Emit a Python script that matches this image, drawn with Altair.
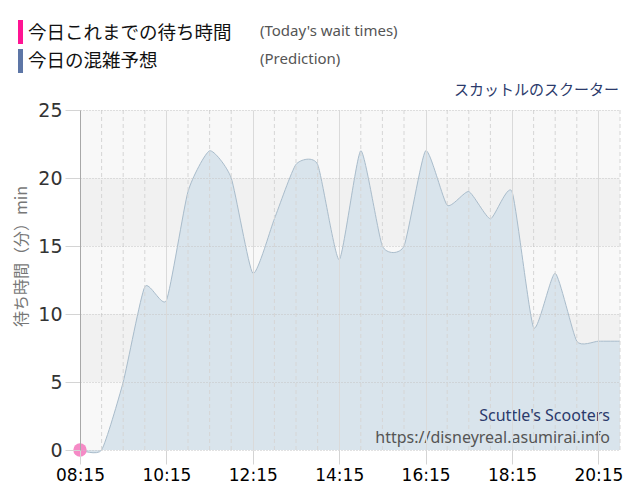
import altair as alt
import pandas as pd

# ---- data ----
times = ["08:15", "08:45", "09:15", "09:45", "10:15", "10:45", "11:15", "11:45",
         "12:15", "12:45", "13:15", "13:45", "14:15", "14:45", "15:15", "15:45",
         "16:15", "16:45", "17:15", "17:45", "18:15", "18:45", "19:15", "19:45",
         "20:15", "20:45"]
predicted = [0, 0, 5, 12, 11, 19, 22, 20,
             13, 17, 21, 21, 14, 22, 15, 15,
             22, 18, 19, 17, 19, 9, 13, 8,
             8, 8]
actual_times = ["08:15"]
actual_waits = [0]

tick_times = ["08:15", "10:15", "12:15", "14:15", "16:15", "18:15", "20:15"]
y_ticks = [0, 5, 10, 15, 20, 25]
band_low = [0, 5, 10, 15, 20]
band_high = [5, 10, 15, 20, 25]
band_fill = ["#f8f8f8", "#f1f1f1", "#f8f8f8", "#f1f1f1", "#f8f8f8"]

legend_ja = ["今日これまでの待ち時間", "今日の混雑予想"]
legend_en = ["(Today's wait times)", "(Prediction)"]
legend_colors = ["#ff1493", "#5d76a6"]
attraction = "スカットルのスクーター"
watermark = ["Scuttle's Scooters", "https://disneyreal.asumirai.info"]
y_title = "待ち時間（分）min"

W, H = 540, 340
JP = "Noto Sans CJK JP"
EN = "Noto Sans"
NUM = "DejaVu Sans"


def ts(t):
    return "2024-01-01T" + t + ":00"


def dt(t):
    h, m = map(int, t.split(":"))
    return alt.DateTime(year=2024, month=1, date=1, hours=h, minutes=m)


pred_df = pd.DataFrame({"time": [ts(t) for t in times], "wait": predicted})
act_df = pd.DataFrame({"time": [ts(t) for t in actual_times], "wait": actual_waits})
grid_df = pd.DataFrame({"time": [ts(t) for t in times if t not in tick_times]})
band_df = pd.DataFrame({"low": band_low, "high": band_high, "fill": band_fill})

xscale = alt.Scale(domain=[dt(times[0]), dt(times[-1])], nice=False)
yscale = alt.Scale(domain=[0, 25], nice=False)

xaxis = alt.Axis(values=[dt(t) for t in tick_times], format="%H:%M", title=None,
                 labelFont=NUM, labelFontSize=17, labelColor="#000000",
                 labelFlush=False, labelOverlap=False, labelPadding=3,
                 tickColor="#d4d4d4", tickSize=14, domain=False,
                 gridColor="#dadada", gridWidth=1, zindex=1)
yaxis = alt.Axis(values=y_ticks, title=y_title, titleFont=JP, titleFontSize=16,
                 titleFontWeight="normal", titleColor="#777777",
                 titleX=-51, titleY=146,
                 labelFont=NUM, labelFontSize=19, labelColor="#333333",
                 labelPadding=3, tickColor="#d4d4d4", tickSize=15,
                 domainColor="#a8a8a8", gridColor="#c4c4c4", gridDash=[1, 2],
                 zindex=1)

bands = alt.Chart(band_df).mark_rect().encode(
    y=alt.Y("low:Q", scale=yscale, axis=yaxis),
    y2="high:Q",
    x=alt.value(0), x2=alt.value(W),
    color=alt.Color("fill:N", scale=None),
)

area = alt.Chart(pred_df).mark_area(
    interpolate="cardinal", tension=0.45, color="#d9e4ec", opacity=1,
    line=alt.OverlayMarkDef(color="#a9bccb", strokeWidth=1,
                            interpolate="cardinal", tension=0.45),
).encode(
    x=alt.X("time:T", scale=xscale, axis=xaxis),
    y=alt.Y("wait:Q", scale=yscale, axis=yaxis),
)

grid30 = alt.Chart(grid_df).mark_rule(color="#d6d6d6", strokeDash=[4, 3], strokeWidth=1).encode(
    x=alt.X("time:T", scale=xscale, axis=xaxis),
)

point = alt.Chart(act_df).mark_circle(size=180, color="#f58ac6", opacity=1).encode(
    x=alt.X("time:T", scale=xscale, axis=xaxis),
    y=alt.Y("wait:Q", scale=yscale, axis=yaxis),
)


def text_layer(txt, x, y, size, color, font, align="left"):
    return alt.Chart(pd.DataFrame({"t": [txt]})).mark_text(
        align=align, baseline="alphabetic", font=font, fontSize=size, color=color
    ).encode(x=alt.value(x), y=alt.value(y), text="t:N")


def bar_layer(color, y0, y1):
    return alt.Chart(pd.DataFrame({"c": [color]})).mark_rect(color=color).encode(
        x=alt.value(-62), x2=alt.value(-57), y=alt.value(y0), y2=alt.value(y1)
    )


layers = [
    bands, area, grid30, point,
    bar_layer(legend_colors[0], -90, -66),
    bar_layer(legend_colors[1], -61, -37),
    text_layer(legend_ja[0], -52, -71, 18.5, "#111111", JP),
    text_layer(legend_ja[1], -52, -43, 18.5, "#111111", JP),
    text_layer(legend_en[0], 180, -74, 15, "#555555", EN),
    text_layer(legend_en[1], 180, -46, 15, "#555555", EN),
    text_layer(attraction, 539, -15, 15, "#2b3a6b", JP, align="right"),
    text_layer(watermark[0], 530, 311, 16, "#2b3a6b", EN, align="right"),
    text_layer(watermark[1], 530, 333, 16, "#555555", EN, align="right"),
]

chart = alt.layer(*layers).properties(
    width=W, height=H,
    autosize="none",
    padding={"left": 72, "top": 102, "right": 12, "bottom": 42},
).configure_view(stroke=None)

chart.save("out.html", embed_options={"renderer": "svg", "actions": False})
